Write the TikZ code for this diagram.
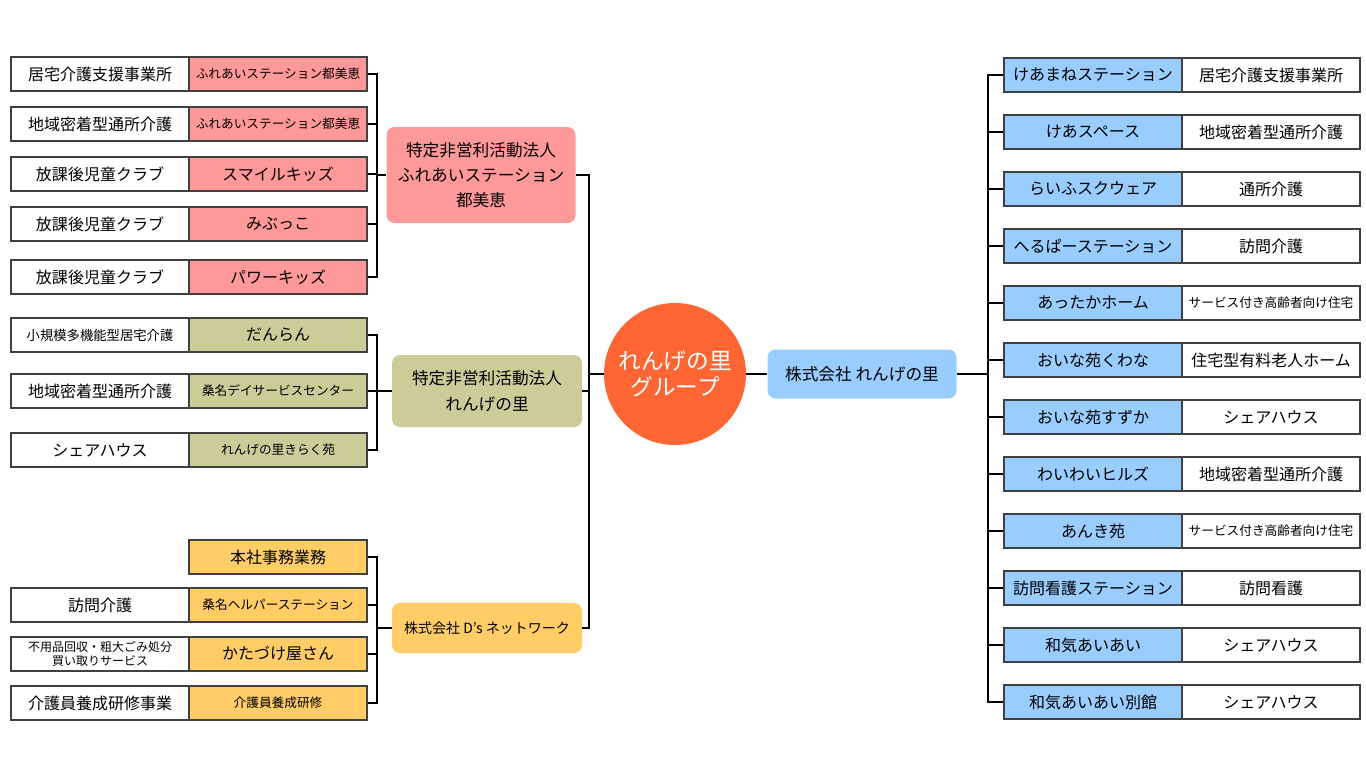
\documentclass[tikz,border=0pt]{standalone}
\usepackage{fontspec}
\setmainfont{Noto Sans CJK JP}
\usetikzlibrary{positioning}
\definecolor{pinkc}{HTML}{FF9999}
\definecolor{olivec}{HTML}{CCCC99}
\definecolor{yellowc}{HTML}{FFCC66}
\definecolor{bluec}{HTML}{99CCFF}
\definecolor{orangec}{HTML}{FF6633}
\tikzset{
  cell/.style={draw=black!75, line width=0.8pt, minimum width=133.5pt, minimum height=25.5pt, inner sep=0pt, font=\fontsize{12}{14}\selectfont},
  small/.style={font=\fontsize{9.5}{11}\selectfont},
  group/.style={rounded corners=6pt, inner sep=0pt, align=center, font=\fontsize{12.5}{19}\selectfont},
  link/.style={line width=1pt}
}
\begin{document}
\begin{tikzpicture}[x=0.75pt,y=-0.75pt]
                \useasboundingbox (0,0) rectangle (1366,768);
                %center
                \node[circle, fill=orangec, minimum size=106.5pt, inner sep=0pt, align=center, text=white, font=\fontsize{17}{20}\selectfont] (top) at (675,374) {れんげの里\\グループ};
                %groups
                \node[group, fill=pinkc, minimum width=141.75pt, minimum height=72pt] (pg) at (481,175) {特定非営利活動法人\\ふれあいステーション\\都美恵};
                \node[group, fill=olivec, minimum width=142.5pt, minimum height=54pt] (og) at (487,391) {特定非営利活動法人\\れんげの里};
                \node[group, fill=yellowc, minimum width=142.5pt, minimum height=37.5pt, font=\fontsize{10.5}{12}\selectfont] (yg) at (487,628) {株式会社 D's ネットワーク};
                \node[group, fill=bluec, minimum width=141.75pt, minimum height=36.75pt] (bg) at (862,374) {株式会社 れんげの里};
                %trunk
                \coordinate (trunk) at (589,374);
                \draw[link] (pg.east) -| (trunk) -- (top.west);
                \draw[link] (og.east) -| (trunk);
                \draw[link] (yg.east) -| (trunk);
                \draw[link] (top.east) -- (bg.west);
                %pink rows
                \coordinate (pbus) at (377,175);
                \foreach \i/\y/\a/\b/\s in {1/74/居宅介護支援事業所/ふれあいステーション都美恵/small,
                                            2/124/地域密着型通所介護/ふれあいステーション都美恵/small,
                                            3/174/放課後児童クラブ/スマイルキッズ/cell,
                                            4/224/放課後児童クラブ/みぶっこ/cell,
                                            5/277/放課後児童クラブ/パワーキッズ/cell} {
                    \node[cell] (pa\i) at (100,\y) {\a};
                    \node[cell, fill=pinkc, \s] (pt\i) at (278,\y) {\b};
                    \draw[link] (pt\i.east) -| (pbus) |- (pg.west);
                }
                %olive rows
                \coordinate (obus) at (377,391);
                \node[cell, font=\fontsize{10}{12}\selectfont] (oa1) at (100,335) {小規模多機能型居宅介護};
                \node[cell] (oa2) at (100,391) {地域密着型通所介護};
                \node[cell] (oa3) at (100,450) {シェアハウス};
                \foreach \i/\y/\b/\s in {1/335/だんらん/cell,
                                         2/391/桑名デイサービスセンター/small,
                                         3/450/れんげの里きらく苑/small} {
                    \node[cell, fill=olivec, \s] (ot\i) at (278,\y) {\b};
                    \draw[link] (ot\i.east) -| (obus) |- (og.west);
                }
                %yellow rows
                \coordinate (ybus) at (377,628);
                \node[cell, fill=yellowc] (yt1) at (278,557) {本社事務業務};
                \node[cell] (ya2) at (100,605) {訪問介護};
                \node[cell, fill=yellowc, small] (yt2) at (278,605) {桑名ヘルパーステーション};
                \node[cell, align=center, font=\fontsize{9}{10.5}\selectfont] (ya3) at (100,654) {不用品回収・粗大ごみ処分\\買い取りサービス};
                \node[cell, fill=yellowc] (yt3) at (278,654) {かたづけ屋さん};
                \node[cell] (ya4) at (100,703) {介護員養成研修事業};
                \node[cell, fill=yellowc, small] (yt4) at (278,703) {介護員養成研修};
                \foreach \i in {1,...,4}
                    \draw[link] (yt\i.east) -| (ybus) |- (yg.west);
                %blue rows
                \coordinate (bbus) at (988,374);
                \foreach \i/\y/\a/\b/\s in {1/75/けあまねステーション/居宅介護支援事業所/cell,
                                            2/132/けあスペース/地域密着型通所介護/cell,
                                            3/189/らいふスクウェア/通所介護/cell,
                                            4/246/へるぱーステーション/訪問介護/cell,
                                            5/303/あったかホーム/サービス付き高齢者向け住宅/small,
                                            6/360/おいな苑くわな/住宅型有料老人ホーム/cell,
                                            7/417/おいな苑すずか/シェアハウス/cell,
                                            8/474/わいわいヒルズ/地域密着型通所介護/cell,
                                            9/531/あんき苑/サービス付き高齢者向け住宅/small,
                                            10/588/訪問看護ステーション/訪問看護/cell,
                                            11/645/和気あいあい/シェアハウス/cell,
                                            12/702/和気あいあい別館/シェアハウス/cell} {
                    \node[cell, fill=bluec] (bt\i) at (1093,\y) {\a};
                    \node[cell, \s] (ba\i) at (1271,\y) {\b};
                    \draw[link] (bt\i.west) -| (bbus) |- (bg.east);
                }
            \end{tikzpicture}
\end{document}
